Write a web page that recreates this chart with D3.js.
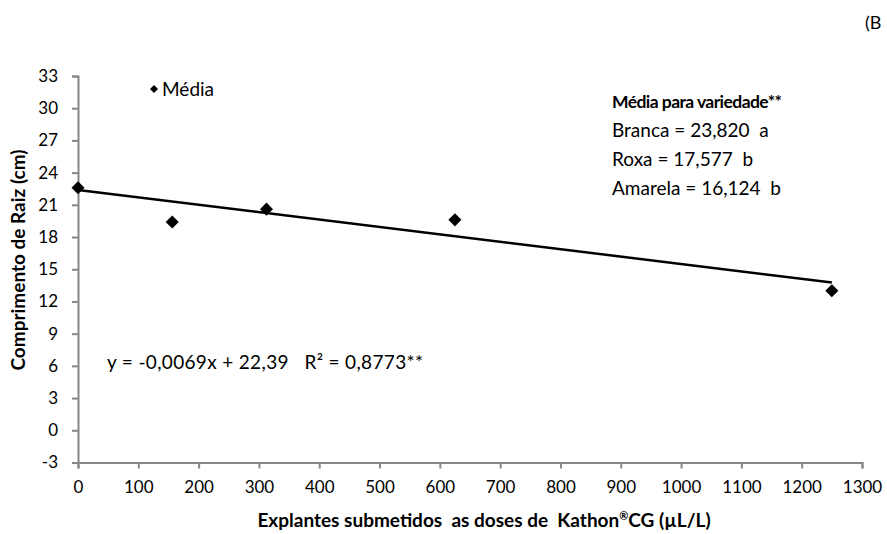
<!DOCTYPE html>
<html>
<head>
<meta charset="utf-8">
<script src="https://cdn.jsdelivr.net/npm/d3@7"></script>
<style>
  body { margin: 0; background: #fff; }
  svg text { font-family: Lato, "Open Sans", sans-serif; fill: #000; }
</style>
</head>
<body>
<svg id="chart" width="887" height="534"></svg>
<script>
// Doses of Kathon CG (µL/L) and mean root length (cm)
const doses = [0, 156.25, 312.5, 625, 1250];
const rootLength = [22.6, 19.4, 20.6, 19.6, 13.0];

// Linear fit y = -0.0069x + 22.39
const slope = -0.0069;
const intercept = 22.39;
const fitRange = [0, 1250];

const xTicks = d3.range(0, 1301, 100);
const yTicks = d3.range(-3, 34, 3);

const varietyLines = ["Branca = 23,820  a", "Roxa = 17,577  b", "Amarela = 16,124  b"];

const svg = d3.select("#chart");
const x = d3.scaleLinear().domain([0, 1300]).range([78, 862]);
const y = d3.scaleLinear().domain([-3, 33]).range([462.5, 76]);

const axisColor = "#868686";
const fmt = d => String(d);

// Axes
const gx = svg.append("g").attr("transform", `translate(0,${y(-3)})`)
  .call(d3.axisBottom(x).tickValues(xTicks).tickFormat(fmt).tickSize(6).tickSizeOuter(6).tickPadding(12));
const gy = svg.append("g").attr("transform", `translate(${x(0)},0)`)
  .call(d3.axisLeft(y).tickValues(yTicks).tickFormat(fmt).tickSize(6).tickSizeOuter(6).tickPadding(14));
[gx, gy].forEach(g => {
  g.selectAll("path, line").attr("stroke", axisColor).attr("stroke-width", 2);
  g.selectAll("text").attr("font-size", 17).attr("fill", "#000")
    .style("font-family", "Lato, 'Open Sans', sans-serif");
});

// Trend line
svg.append("line")
  .attr("x1", x(fitRange[0])).attr("y1", y(slope * fitRange[0] + intercept))
  .attr("x2", x(fitRange[1])).attr("y2", y(slope * fitRange[1] + intercept))
  .attr("stroke", "#000").attr("stroke-width", 2.5);

// Markers
svg.append("g").selectAll("path").data(doses).join("path")
  .attr("d", d3.symbol().type(d3.symbolSquare).size(85))
  .attr("transform", (d, i) => `translate(${x(d)},${y(rootLength[i])}) rotate(45)`)
  .attr("fill", "#000");

// Legend
svg.append("path")
  .attr("d", d3.symbol().type(d3.symbolSquare).size(32))
  .attr("transform", `translate(${154},${89}) rotate(45)`)
  .attr("fill", "#000");
svg.append("text").attr("x", 162).attr("y", 96).attr("font-size", 19).text("Média");

// Variety means
const ann = svg.append("g");
ann.append("text").attr("x", 612).attr("y", 108).attr("font-size", 17.5)
  .attr("font-weight", "bold").attr("textLength", 170).text("Média para variedade**");
varietyLines.forEach((t, i) => {
  ann.append("text").attr("x", 612).attr("y", 137 + i * 29).attr("font-size", 19)
    .attr("xml:space", "preserve").text(t);
});

// Equation
svg.append("text").attr("x", 107).attr("y", 369).attr("font-size", 19)
  .attr("xml:space", "preserve").attr("textLength", 316)
  .text("y = -0,0069x + 22,39   R² = 0,8773**");

// Axis titles
svg.append("text")
  .attr("transform", `translate(25,260) rotate(-90)`)
  .attr("text-anchor", "middle").attr("font-size", 19).attr("font-weight", "bold")
  .text("Comprimento de Raiz (cm)");
const xt = svg.append("text").attr("x", 484).attr("y", 527)
  .attr("text-anchor", "middle").attr("font-size", 19).attr("font-weight", "bold")
  .attr("xml:space", "preserve");
xt.append("tspan").text("Explantes submetidos  as doses de  Kathon");
xt.append("tspan").attr("font-size", 11).attr("dy", -7).text("®");
xt.append("tspan").attr("dy", 7).text("CG (µL/L)");

// Panel tag
svg.append("text").attr("x", 865).attr("y", 29).attr("font-size", 18).text("(B");
</script>
</body>
</html>
